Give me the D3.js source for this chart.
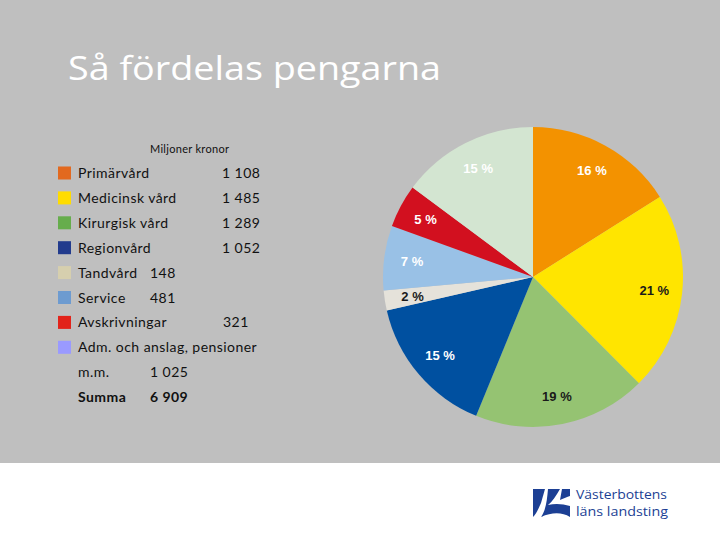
<!DOCTYPE html>
<html>
<head>
<meta charset="utf-8">
<script src="https://cdn.jsdelivr.net/npm/d3@7"></script>
<style>
  body { margin: 0; background: #fff; }
  svg { display: block; }
</style>
</head>
<body>
<svg id="chart" width="720" height="540"></svg>
<script>
// data (Miljoner kronor)
const categories = ["Primärvård", "Medicinsk vård", "Kirurgisk vård", "Regionvård",
  "Tandvård", "Service", "Avskrivningar", "Adm. och anslag, pensioner"];
const values = [1108, 1485, 1289, 1052, 148, 481, 321, 1025];
const valueLabels = ["1 108", "1 485", "1 289", "1 052", "148", "481", "321", "1 025"];
const total = 6909;
const totalLabel = "6 909";

const pieColors = ["#f39200", "#ffe500", "#95c372", "#0050a0", "#e5e2da", "#99c1e6", "#d2101f", "#d3e5d1"];
const legendColors = ["#e2691f", "#ffdc00", "#66ad4c", "#223b8d", "#d6cfae", "#6d9bd0", "#e2231a", "#9a9aff"];
const darkLabel = [false, true, true, false, true, false, false, false];

const svg = d3.select("#chart");

// grey slide area
svg.append("rect")
  .attr("x", 0).attr("y", 0)
  .attr("width", 720).attr("height", 463)
  .attr("fill", "#bfbfbf");

svg.append("text")
  .attr("x", 68).attr("y", 80)
  .attr("font-family", "Open Sans, sans-serif")
  .attr("font-size", 33)
  .attr("fill", "#ffffff")
  .attr("textLength", 373)
  .attr("lengthAdjust", "spacingAndGlyphs")
  .text("Så fördelas pengarna");

// legend
const legend = svg.append("g")
  .attr("font-family", "Lato, sans-serif")
  .attr("font-size", 14)
  .attr("letter-spacing", 0.45)
  .attr("fill", "#111");

legend.append("text")
  .attr("x", 150).attr("y", 153)
  .attr("font-size", 11)
  .attr("letter-spacing", 0.3)
  .text("Miljoner kronor");

const rowY = d3.scaleLinear().domain([0, 1]).range([173, 197.9]);
// value columns differ per row in the reference layout
const valueX = [222, 222, 222, 222, 150, 150, 223, null];

categories.forEach((c, i) => {
  const y = rowY(i);
  legend.append("rect")
    .attr("x", 58).attr("y", y - 6.5)
    .attr("width", 13).attr("height", 13)
    .attr("fill", legendColors[i]);
  legend.append("text")
    .attr("x", 78).attr("y", y + 5)
    .text(c);
  if (valueX[i] !== null) {
    legend.append("text")
      .attr("x", valueX[i]).attr("y", y + 5)
      .text(valueLabels[i]);
  }
});

legend.append("text").attr("x", 78).attr("y", rowY(8) + 5).text("m.m.");
legend.append("text").attr("x", 150).attr("y", rowY(8) + 5).text(valueLabels[7]);
legend.append("text").attr("x", 78).attr("y", rowY(9) + 5)
  .attr("font-weight", "bold").text("Summa");
legend.append("text").attr("x", 150).attr("y", rowY(9) + 5)
  .attr("font-weight", "bold").text(totalLabel);

// pie
const cx = 533, cy = 277, r = 150;
const pie = d3.pie().sort(null).value(d => d)(values);
const arc = d3.arc().innerRadius(0).outerRadius(r);
const labelArc = d3.arc().innerRadius(122).outerRadius(122);

const g = svg.append("g").attr("transform", `translate(${cx},${cy})`);

g.selectAll("path")
  .data(pie)
  .enter()
  .append("path")
    .attr("d", arc)
    .attr("fill", (d, i) => pieColors[i]);

g.selectAll(".pct")
  .data(pie)
  .enter()
  .append("text")
    .attr("class", "pct")
    .attr("transform", d => `translate(${labelArc.centroid(d)})`)
    .attr("text-anchor", "middle")
    .attr("dy", "0.35em")
    .attr("font-family", "Liberation Sans, Arial, sans-serif")
    .attr("font-weight", "bold")
    .attr("font-size", 13)
    .attr("fill", (d, i) => darkLabel[i] ? "#1a1a1a" : "#ffffff")
    .text(d => Math.round(d.value / total * 100) + " %");

// logo
const logo = svg.append("g").attr("fill", "#1c3f94");
logo.append("path")
  .attr("d", "M533,489 L545,489 L541,503 C538,510 536,514 533,517 Z");
logo.append("path")
  .attr("d", "M548,489 L560,489 C556,496 552,502 548,505 C556,503 563,504 570,506 L570,517 C562,512 552,512 541,517 C546,510 547,500 548,489 Z");
logo.append("path")
  .attr("d", "M562,489 L570,489 L570,496 C567,497 564,498 560,500 Z");
logo.append("text")
  .attr("x", 576).attr("y", 499)
  .attr("font-family", "Open Sans, sans-serif")
  .attr("font-size", 12.5)
  .attr("textLength", 91)
  .attr("lengthAdjust", "spacingAndGlyphs")
  .text("Västerbottens");
logo.append("text")
  .attr("x", 576).attr("y", 516)
  .attr("font-family", "Open Sans, sans-serif")
  .attr("font-size", 12.5)
  .attr("textLength", 92)
  .attr("lengthAdjust", "spacingAndGlyphs")
  .text("läns landsting");
</script>
</body>
</html>
